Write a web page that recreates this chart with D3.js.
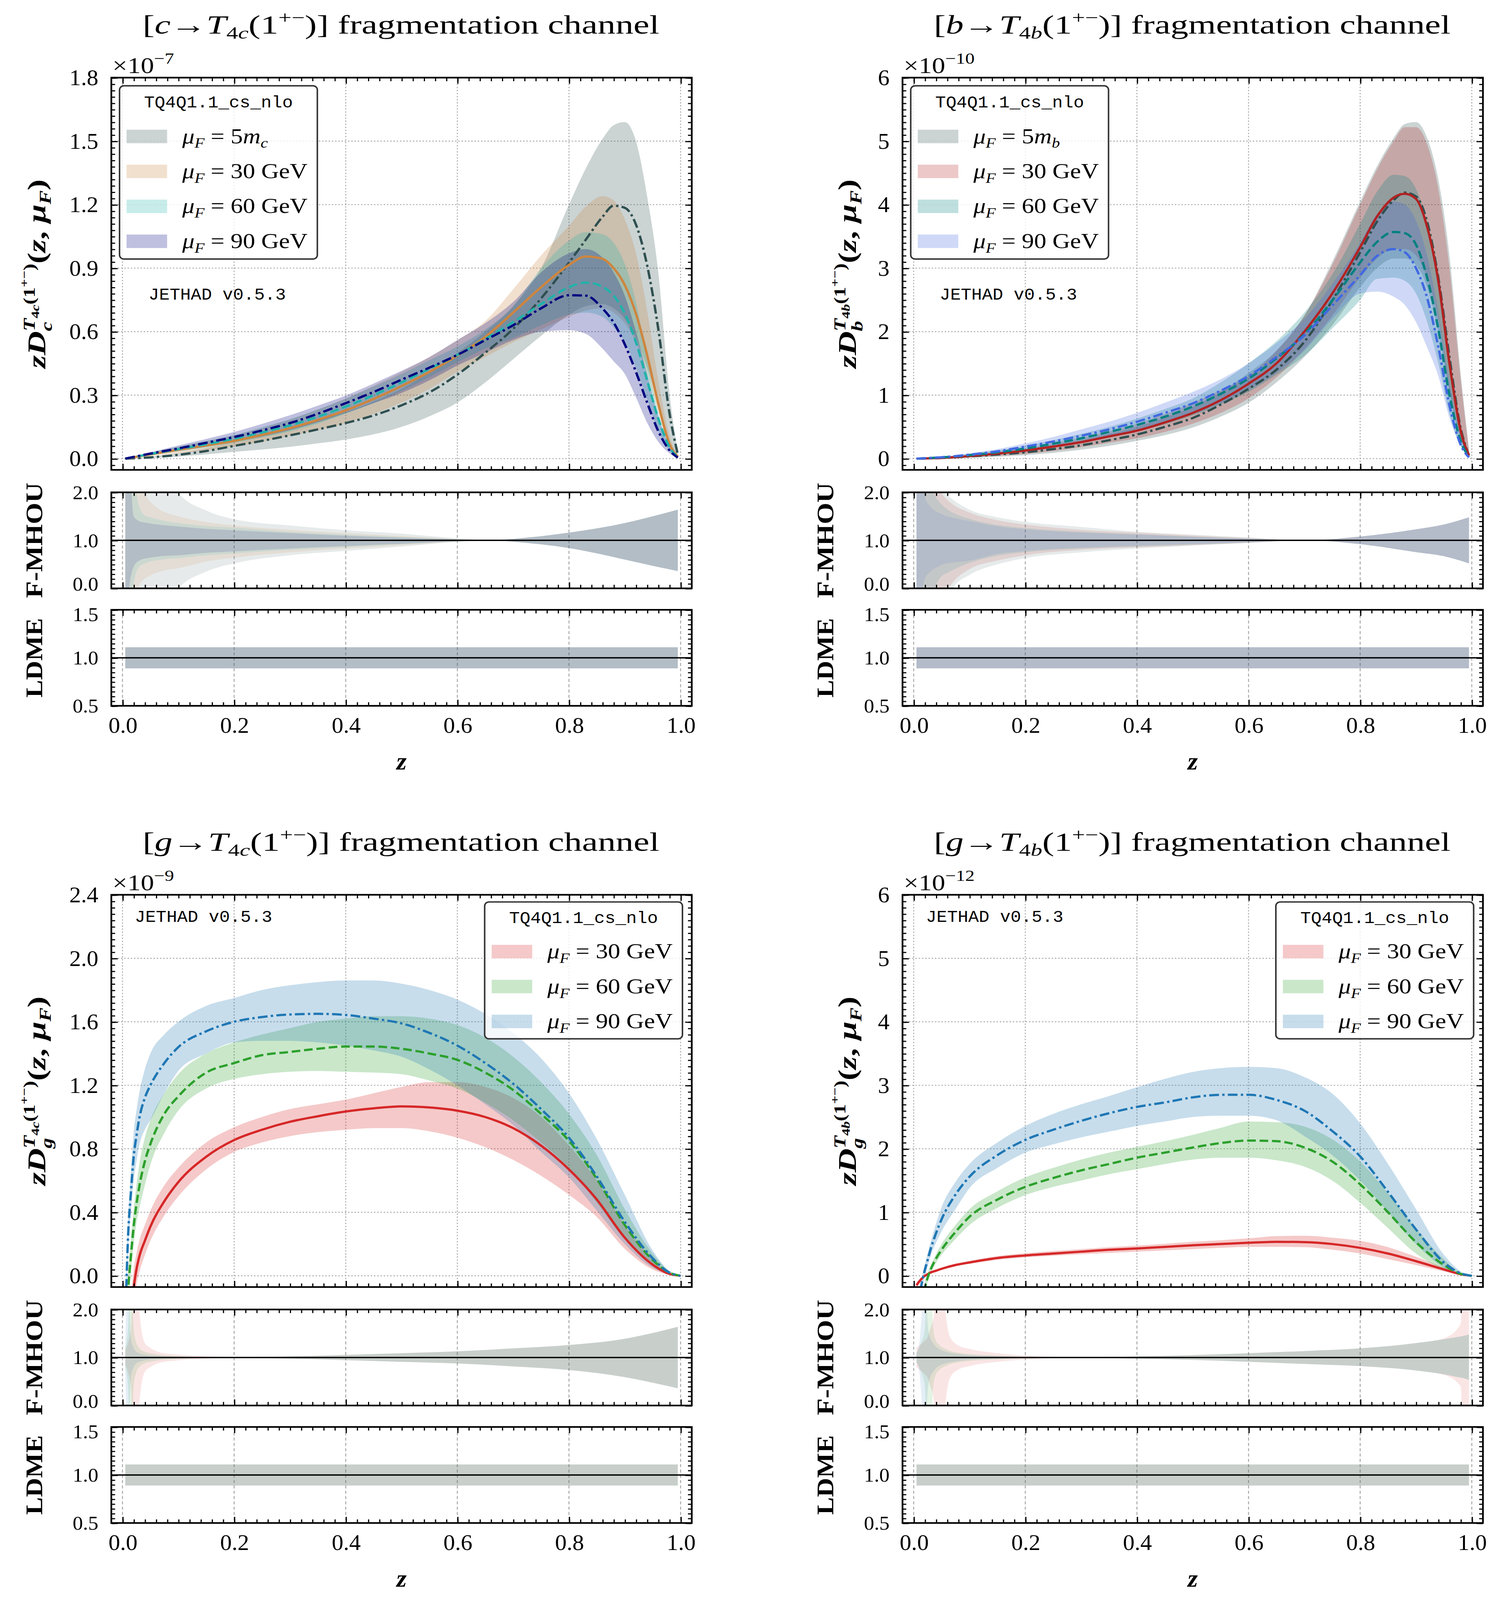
<!DOCTYPE html>
<html>
<head>
<meta charset="utf-8">
<script src="https://cdn.jsdelivr.net/npm/d3@7"></script>
<style>
  html, body { margin: 0; padding: 0; height: 100%; overflow: hidden; background: #fff; }
  svg { display: block; width: 100vw; height: 100vh; }
</style>
</head>
<body>
<svg id="fig" viewBox="0 0 1385 1566.4" preserveAspectRatio="none"></svg>
<script>
// ---- main-panel grids (z) ----
const zQ = [0.005, 0.05, 0.1, 0.15, 0.2, 0.25, 0.3, 0.35, 0.4, 0.45, 0.5, 0.55, 0.6, 0.65, 0.7, 0.75, 0.8, 0.83, 0.86, 0.88, 0.9, 0.92, 0.94, 0.96, 0.98, 0.995];
const zG = [0.005, 0.01, 0.015, 0.02, 0.025, 0.03, 0.04, 0.05, 0.075, 0.1, 0.15, 0.2, 0.25, 0.3, 0.35, 0.4, 0.45, 0.5, 0.55, 0.6, 0.65, 0.7, 0.75, 0.8, 0.85, 0.9, 0.95, 0.98, 1.0];

// ---- c -> T4c  (x 1e-7) ----
const c5Mid  = [0, 0.006, 0.018, 0.036, 0.06, 0.084, 0.11, 0.138, 0.168, 0.204, 0.252, 0.313, 0.397, 0.5, 0.613, 0.757, 0.926, 1.034, 1.142, 1.195, 1.185, 1.106, 0.914, 0.613, 0.216, 0.02];
const c5Lo   = [0, 0.003, 0.01, 0.02, 0.032, 0.043, 0.056, 0.072, 0.09, 0.115, 0.15, 0.2, 0.265, 0.36, 0.47, 0.58, 0.68, 0.72, 0.73, 0.71, 0.66, 0.57, 0.43, 0.26, 0.07, 0];
const c5Hi   = [0, 0.009, 0.027, 0.05, 0.08, 0.11, 0.145, 0.18, 0.22, 0.27, 0.33, 0.41, 0.5, 0.6, 0.72, 0.9, 1.2, 1.37, 1.51, 1.575, 1.59, 1.5, 1.24, 0.88, 0.31, 0.03];
const c30Mid = [0, 0.02, 0.042, 0.062, 0.084, 0.112, 0.144, 0.183, 0.228, 0.282, 0.343, 0.41, 0.487, 0.575, 0.69, 0.81, 0.915, 0.955, 0.944, 0.9, 0.82, 0.685, 0.49, 0.26, 0.07, 0.01];
const c30Lo  = [0, 0.012, 0.026, 0.04, 0.058, 0.08, 0.108, 0.135, 0.168, 0.212, 0.265, 0.33, 0.41, 0.48, 0.55, 0.61, 0.67, 0.7, 0.71, 0.69, 0.64, 0.55, 0.4, 0.22, 0.06, 0];
const c30Hi  = [0, 0.026, 0.055, 0.082, 0.11, 0.145, 0.185, 0.232, 0.285, 0.345, 0.41, 0.48, 0.56, 0.65, 0.8, 0.96, 1.1, 1.19, 1.24, 1.22, 1.13, 0.97, 0.7, 0.37, 0.11, 0.01];
const c60Mid = [0, 0.022, 0.045, 0.068, 0.094, 0.124, 0.157, 0.198, 0.246, 0.3, 0.36, 0.425, 0.49, 0.565, 0.645, 0.73, 0.81, 0.832, 0.812, 0.77, 0.685, 0.55, 0.37, 0.19, 0.055, 0.005];
const c60Lo  = [0, 0.016, 0.034, 0.052, 0.075, 0.1, 0.128, 0.165, 0.212, 0.262, 0.32, 0.385, 0.455, 0.52, 0.57, 0.63, 0.68, 0.69, 0.67, 0.62, 0.55, 0.43, 0.28, 0.13, 0.035, 0];
const c60Hi  = [0, 0.027, 0.056, 0.084, 0.112, 0.148, 0.186, 0.232, 0.283, 0.34, 0.4, 0.465, 0.53, 0.61, 0.72, 0.9, 1.03, 1.07, 1.06, 1.02, 0.92, 0.74, 0.47, 0.22, 0.06, 0.005];
const c90Mid = [0, 0.024, 0.048, 0.075, 0.102, 0.133, 0.168, 0.212, 0.262, 0.315, 0.373, 0.43, 0.49, 0.56, 0.63, 0.71, 0.772, 0.77, 0.71, 0.643, 0.54, 0.41, 0.265, 0.13, 0.04, 0.005];
const c90Lo  = [0, 0.017, 0.036, 0.056, 0.08, 0.105, 0.135, 0.172, 0.215, 0.262, 0.31, 0.37, 0.44, 0.5, 0.56, 0.6, 0.607, 0.59, 0.52, 0.46, 0.4, 0.29, 0.17, 0.08, 0.025, 0];
const c90Hi  = [0, 0.03, 0.062, 0.093, 0.126, 0.164, 0.205, 0.25, 0.298, 0.355, 0.415, 0.48, 0.56, 0.64, 0.74, 0.88, 0.97, 0.99, 0.95, 0.88, 0.77, 0.6, 0.4, 0.2, 0.06, 0.005];

// ---- b -> T4b  (x 1e-10) ----
const b5Mid  = [0, 0.01, 0.035, 0.065, 0.1, 0.15, 0.21, 0.29, 0.38, 0.5, 0.64, 0.85, 1.1, 1.4, 1.84, 2.49, 3.25, 3.73, 4.07, 4.19, 4.13, 3.73, 2.85, 1.6, 0.48, 0.05];
const b5Lo   = [0, 0.005, 0.015, 0.03, 0.055, 0.09, 0.14, 0.2, 0.28, 0.37, 0.49, 0.66, 0.88, 1.2, 1.6, 2.1, 2.7, 3.0, 3.15, 3.15, 3.05, 2.7, 2.0, 1.0, 0.3, 0.02];
const b5Hi   = [0, 0.015, 0.05, 0.095, 0.145, 0.215, 0.29, 0.39, 0.5, 0.65, 0.82, 1.05, 1.35, 1.7, 2.25, 3.1, 4.05, 4.6, 5.05, 5.27, 5.3, 5.05, 4.4, 3.2, 1.35, 0.15];
const b30Mid = [0, 0.012, 0.04, 0.08, 0.128, 0.19, 0.26, 0.35, 0.44, 0.57, 0.72, 0.92, 1.18, 1.5, 2.0, 2.6, 3.33, 3.81, 4.11, 4.17, 4.09, 3.65, 2.8, 1.5, 0.44, 0.05];
const b30Lo  = [0, 0.007, 0.022, 0.045, 0.075, 0.12, 0.18, 0.25, 0.32, 0.42, 0.55, 0.72, 0.95, 1.28, 1.72, 2.25, 2.85, 3.15, 3.3, 3.3, 3.2, 2.85, 2.2, 1.1, 0.33, 0.03];
const b30Hi  = [0, 0.017, 0.058, 0.11, 0.16, 0.24, 0.33, 0.43, 0.55, 0.7, 0.88, 1.08, 1.3, 1.7, 2.25, 3.05, 4.0, 4.55, 5.0, 5.22, 5.22, 4.95, 4.25, 3.0, 1.25, 0.12];
const b60Mid = [0, 0.02, 0.055, 0.1, 0.16, 0.235, 0.32, 0.42, 0.53, 0.66, 0.82, 1.02, 1.26, 1.58, 1.96, 2.49, 3.09, 3.41, 3.57, 3.55, 3.37, 2.85, 2.04, 1.0, 0.28, 0.03];
const b60Lo  = [0, 0.013, 0.037, 0.07, 0.12, 0.18, 0.25, 0.33, 0.43, 0.54, 0.68, 0.85, 1.05, 1.32, 1.62, 2.05, 2.5, 2.83, 2.85, 2.8, 2.6, 2.15, 1.5, 0.7, 0.2, 0.02];
const b60Hi  = [0, 0.027, 0.075, 0.13, 0.2, 0.29, 0.39, 0.5, 0.63, 0.78, 0.95, 1.2, 1.5, 1.85, 2.3, 2.9, 3.7, 4.2, 4.47, 4.45, 4.25, 3.7, 2.8, 1.5, 0.45, 0.04];
const b90Mid = [0, 0.022, 0.062, 0.115, 0.19, 0.27, 0.36, 0.46, 0.58, 0.72, 0.87, 1.07, 1.3, 1.6, 1.94, 2.41, 2.89, 3.19, 3.3, 3.25, 3.0, 2.53, 1.76, 0.84, 0.22, 0.02];
const b90Lo  = [0, 0.016, 0.045, 0.085, 0.14, 0.2, 0.28, 0.36, 0.45, 0.56, 0.7, 0.87, 1.08, 1.35, 1.7, 2.2, 2.6, 2.63, 2.55, 2.42, 2.15, 1.75, 1.3, 0.64, 0.2, 0.01];
const b90Hi  = [0, 0.03, 0.085, 0.15, 0.24, 0.34, 0.46, 0.58, 0.72, 0.88, 1.05, 1.25, 1.5, 1.82, 2.2, 2.75, 3.4, 3.85, 4.05, 4.0, 3.75, 3.2, 2.3, 1.2, 0.35, 0.03];

// ---- g -> T4c  (x 1e-9) ----
const gc30Mid = [-1.0, -0.6, -0.3, -0.08, 0.04, 0.12, 0.22, 0.31, 0.47, 0.59, 0.75, 0.855, 0.92, 0.97, 1.005, 1.035, 1.055, 1.067, 1.06, 1.04, 1.0, 0.93, 0.82, 0.67, 0.48, 0.24, 0.07, 0.012, 0];
const gc30Lo  = [-1.2, -0.8, -0.45, -0.2, -0.06, 0.02, 0.13, 0.22, 0.38, 0.5, 0.67, 0.78, 0.84, 0.88, 0.905, 0.92, 0.93, 0.93, 0.91, 0.87, 0.81, 0.73, 0.63, 0.51, 0.37, 0.17, 0.04, 0.006, 0];
const gc30Hi  = [-0.8, -0.4, -0.15, 0.04, 0.14, 0.22, 0.32, 0.41, 0.57, 0.68, 0.84, 0.935, 1.0, 1.05, 1.08, 1.11, 1.15, 1.19, 1.22, 1.22, 1.19, 1.12, 1.0, 0.82, 0.6, 0.32, 0.1, 0.02, 0];
const gc60Mid = [-0.5, -0.1, 0.12, 0.31, 0.45, 0.56, 0.72, 0.83, 1.02, 1.13, 1.28, 1.34, 1.39, 1.41, 1.43, 1.444, 1.444, 1.43, 1.4, 1.36, 1.28, 1.17, 1.02, 0.85, 0.61, 0.32, 0.1, 0.02, 0];
const gc60Lo  = [-0.6, -0.2, 0.02, 0.2, 0.33, 0.42, 0.57, 0.7, 0.9, 1.04, 1.18, 1.24, 1.27, 1.285, 1.29, 1.285, 1.28, 1.27, 1.23, 1.18, 1.09, 0.98, 0.84, 0.68, 0.46, 0.23, 0.07, 0.015, 0];
const gc60Hi  = [-0.4, 0.0, 0.22, 0.42, 0.57, 0.7, 0.87, 0.98, 1.15, 1.27, 1.4, 1.47, 1.52, 1.56, 1.6, 1.62, 1.635, 1.635, 1.62, 1.58, 1.5, 1.38, 1.22, 1.02, 0.76, 0.42, 0.14, 0.03, 0];
const gc90Mid = [-0.3, 0.25, 0.52, 0.75, 0.88, 0.99, 1.12, 1.2, 1.34, 1.44, 1.54, 1.6, 1.63, 1.646, 1.65, 1.643, 1.62, 1.59, 1.53, 1.45, 1.34, 1.21, 1.05, 0.87, 0.625, 0.34, 0.11, 0.02, 0];
const gc90Lo  = [-0.4, 0.15, 0.4, 0.6, 0.72, 0.82, 0.92, 0.98, 1.15, 1.29, 1.4, 1.47, 1.48, 1.48, 1.47, 1.45, 1.42, 1.38, 1.3, 1.2, 1.08, 0.95, 0.78, 0.62, 0.41, 0.2, 0.05, 0.01, 0];
const gc90Hi  = [-0.2, 0.35, 0.65, 0.9, 1.04, 1.15, 1.3, 1.4, 1.52, 1.6, 1.7, 1.75, 1.8, 1.83, 1.85, 1.86, 1.86, 1.84, 1.8, 1.74, 1.65, 1.53, 1.37, 1.15, 0.86, 0.51, 0.16, 0.03, 0];

// ---- g -> T4b  (x 1e-12) ----
const gb30Mid = [-0.15, -0.09, -0.04, 0.0, 0.025, 0.05, 0.08, 0.11, 0.17, 0.21, 0.28, 0.32, 0.35, 0.38, 0.41, 0.43, 0.455, 0.48, 0.5, 0.52, 0.535, 0.53, 0.5, 0.44, 0.35, 0.23, 0.1, 0.025, 0];
const gb30Lo  = [-0.2, -0.12, -0.06, -0.01, 0.015, 0.04, 0.065, 0.095, 0.15, 0.19, 0.25, 0.29, 0.315, 0.34, 0.36, 0.38, 0.4, 0.42, 0.44, 0.455, 0.455, 0.45, 0.41, 0.35, 0.26, 0.17, 0.07, 0.015, 0];
const gb30Hi  = [-0.1, -0.06, -0.02, 0.01, 0.035, 0.06, 0.095, 0.125, 0.19, 0.235, 0.31, 0.355, 0.39, 0.42, 0.45, 0.475, 0.505, 0.535, 0.56, 0.59, 0.625, 0.63, 0.6, 0.55, 0.45, 0.3, 0.13, 0.035, 0];
const gb60Mid = [-0.8, -0.6, -0.4, -0.2, -0.03, 0.09, 0.27, 0.41, 0.69, 0.93, 1.2, 1.4, 1.54, 1.66, 1.76, 1.86, 1.94, 2.02, 2.09, 2.13, 2.12, 2.02, 1.8, 1.44, 1.0, 0.53, 0.17, 0.03, 0];
const gb60Lo  = [-0.9, -0.7, -0.5, -0.3, -0.1, 0.03, 0.2, 0.33, 0.58, 0.8, 1.07, 1.27, 1.4, 1.5, 1.6, 1.68, 1.76, 1.83, 1.86, 1.86, 1.82, 1.72, 1.5, 1.15, 0.75, 0.35, 0.1, 0.015, 0];
const gb60Hi  = [-0.7, -0.5, -0.3, -0.1, 0.04, 0.15, 0.34, 0.5, 0.8, 1.05, 1.33, 1.55, 1.7, 1.83, 1.94, 2.03, 2.12, 2.22, 2.33, 2.43, 2.42, 2.35, 2.15, 1.8, 1.3, 0.75, 0.26, 0.05, 0];
const gb90Mid = [-0.5, -0.3, -0.1, 0.09, 0.25, 0.41, 0.67, 0.89, 1.28, 1.56, 1.9, 2.14, 2.3, 2.44, 2.56, 2.66, 2.73, 2.81, 2.85, 2.85, 2.77, 2.6, 2.28, 1.88, 1.32, 0.73, 0.21, 0.04, 0];
const gb90Lo  = [-0.6, -0.4, -0.2, 0.0, 0.15, 0.3, 0.52, 0.7, 1.05, 1.38, 1.7, 1.94, 2.07, 2.18, 2.27, 2.36, 2.43, 2.5, 2.52, 2.52, 2.45, 2.2, 1.9, 1.5, 1.0, 0.5, 0.13, 0.02, 0];
const gb90Hi  = [-0.4, -0.2, 0.0, 0.18, 0.35, 0.52, 0.82, 1.08, 1.48, 1.76, 2.1, 2.36, 2.55, 2.7, 2.83, 2.97, 3.1, 3.21, 3.27, 3.29, 3.27, 3.13, 2.87, 2.4, 1.76, 1.05, 0.33, 0.07, 0];

// ---- F-MHOU ratio bands ----
const zRc = [0.005, 0.01, 0.02, 0.03, 0.04, 0.05, 0.07, 0.1, 0.15, 0.2, 0.3, 0.4, 0.5, 0.6, 0.66, 0.7, 0.8, 0.9, 0.95, 0.995];
const rc5Hi  = [3, 3, 3, 3, 3, 3, 2.6, 2.0, 1.62, 1.44, 1.31, 1.21, 1.14, 1.04, 1.0, 1.03, 1.16, 1.36, 1.5, 1.64];
const rc5Lo  = [-1, -1, -1, -1, -1, -1, -0.5, 0.0, 0.35, 0.52, 0.69, 0.78, 0.87, 0.97, 1.0, 0.97, 0.84, 0.6, 0.47, 0.36];
const rc30Hi = [3, 3, 3, 2.2, 1.95, 1.8, 1.62, 1.5, 1.38, 1.31, 1.22, 1.15, 1.09, 1.03, 1.0, 1.03, 1.16, 1.36, 1.5, 1.64];
const rc30Lo = [-1, -1, -1, 0.05, 0.2, 0.27, 0.36, 0.42, 0.56, 0.64, 0.75, 0.83, 0.9, 0.97, 1.0, 0.97, 0.84, 0.6, 0.47, 0.36];
const rc60Hi = [3, 3, 2.3, 1.7, 1.52, 1.48, 1.42, 1.36, 1.3, 1.265, 1.18, 1.12, 1.07, 1.025, 1.0, 1.03, 1.16, 1.36, 1.5, 1.64];
const rc60Lo = [-1, -1, 0.1, 0.45, 0.52, 0.56, 0.6, 0.63, 0.69, 0.73, 0.8, 0.86, 0.92, 0.975, 1.0, 0.97, 0.84, 0.6, 0.47, 0.36];
const rc90Hi = [3, 3, 1.5, 1.4, 1.37, 1.35, 1.32, 1.29, 1.24, 1.21, 1.15, 1.095, 1.055, 1.02, 1.0, 1.03, 1.16, 1.36, 1.5, 1.64];
const rc90Lo = [-1, -0.2, 0.45, 0.58, 0.62, 0.64, 0.67, 0.69, 0.74, 0.77, 0.83, 0.88, 0.93, 0.98, 1.0, 0.97, 0.84, 0.6, 0.47, 0.36];

const zRb = [0.005, 0.01, 0.02, 0.03, 0.04, 0.05, 0.06, 0.07, 0.1, 0.15, 0.2, 0.3, 0.4, 0.5, 0.6, 0.7, 0.8, 0.9, 0.95, 0.995];
const rb5Hi  = [3, 3, 3, 3, 3, 2.1, 1.95, 1.85, 1.64, 1.48, 1.385, 1.28, 1.18, 1.12, 1.06, 1.0, 1.08, 1.23, 1.33, 1.48];
const rb5Lo  = [-1, -1, -1, -1, -1, -1, -0.3, 0.0, 0.28, 0.5, 0.63, 0.75, 0.83, 0.89, 0.945, 1.0, 0.92, 0.755, 0.67, 0.52];
const rb30Hi = [3, 3, 3, 3, 2.4, 2.0, 1.85, 1.75, 1.58, 1.42, 1.33, 1.22, 1.16, 1.1, 1.05, 1.0, 1.08, 1.23, 1.33, 1.48];
const rb30Lo = [-1, -1, -1, -1, -1, -0.3, -0.05, 0.12, 0.4, 0.58, 0.69, 0.8, 0.855, 0.9, 0.95, 1.0, 0.92, 0.755, 0.67, 0.52];
const rb60Hi = [3, 3, 3, 2.2, 1.9, 1.75, 1.65, 1.58, 1.45, 1.32, 1.255, 1.18, 1.13, 1.08, 1.04, 1.0, 1.08, 1.23, 1.33, 1.48];
const rb60Lo = [-1, -1, -1, -0.5, 0.05, 0.25, 0.32, 0.38, 0.53, 0.68, 0.755, 0.83, 0.87, 0.91, 0.955, 1.0, 0.92, 0.755, 0.67, 0.52];
const rb90Hi = [3, 3, 1.9, 1.7, 1.6, 1.55, 1.5, 1.47, 1.4, 1.29, 1.23, 1.16, 1.12, 1.07, 1.035, 1.0, 1.08, 1.23, 1.33, 1.48];
const rb90Lo = [-1, -0.5, 0.2, 0.35, 0.43, 0.49, 0.52, 0.54, 0.58, 0.72, 0.78, 0.845, 0.89, 0.925, 0.96, 1.0, 0.92, 0.755, 0.67, 0.52];

const zRgc = [0.005, 0.01, 0.015, 0.02, 0.025, 0.03, 0.04, 0.05, 0.07, 0.1, 0.15, 0.2, 0.3, 0.4, 0.5, 0.6, 0.7, 0.8, 0.9, 0.95, 0.995];
const rgc30Hi = [1.15, 1.3, 1.6, 3, 3, 2.0, 1.3, 1.2, 1.1, 1.06, 1.025, 1.005, 1.025, 1.055, 1.09, 1.13, 1.19, 1.26, 1.39, 1.51, 1.64];
const rgc30Lo = [0.85, 0.7, 0.4, -1, -1, 0.0, 0.7, 0.8, 0.9, 0.94, 0.975, 0.995, 0.975, 0.945, 0.91, 0.875, 0.815, 0.74, 0.59, 0.475, 0.36];
const rgc60Hi = [1.2, 1.6, 3, 1.6, 1.3, 1.2, 1.12, 1.09, 1.05, 1.03, 1.01, 1.0, 1.025, 1.055, 1.09, 1.13, 1.19, 1.26, 1.39, 1.51, 1.64];
const rgc60Lo = [0.8, 0.4, -1, 0.4, 0.7, 0.8, 0.88, 0.91, 0.95, 0.97, 0.99, 1.0, 0.975, 0.945, 0.91, 0.875, 0.815, 0.74, 0.59, 0.475, 0.36];
const rgc90Hi = [1.3, 3, 1.4, 1.2, 1.12, 1.09, 1.06, 1.04, 1.03, 1.02, 1.01, 1.0, 1.025, 1.055, 1.09, 1.13, 1.19, 1.26, 1.39, 1.51, 1.64];
const rgc90Lo = [0.7, -1, 0.6, 0.8, 0.88, 0.91, 0.94, 0.96, 0.97, 0.98, 0.99, 1.0, 0.975, 0.945, 0.91, 0.875, 0.815, 0.74, 0.59, 0.475, 0.36];

const zRgb = [0.005, 0.01, 0.015, 0.02, 0.025, 0.03, 0.035, 0.04, 0.045, 0.05, 0.055, 0.065, 0.08, 0.1, 0.15, 0.2, 0.25, 0.3, 0.4, 0.5, 0.6, 0.7, 0.8, 0.9, 0.95, 0.98, 0.985, 0.995];
const rgb30Hi = [1.2, 1.25, 1.3, 1.35, 1.42, 1.6, 1.8, 2.3, 3, 3, 2.2, 1.43, 1.25, 1.18, 1.09, 1.04, 1.01, 1.0, 1.025, 1.05, 1.09, 1.135, 1.19, 1.3, 1.4, 1.7, 3, 3];
const rgb30Lo = [0.8, 0.75, 0.7, 0.65, 0.58, 0.4, 0.2, -0.3, -1, -1, -0.2, 0.57, 0.75, 0.82, 0.91, 0.96, 0.99, 1.0, 0.975, 0.95, 0.91, 0.865, 0.82, 0.73, 0.64, 0.4, -1, -1];
const rgb60Hi = [1.1, 1.2, 1.35, 1.6, 3, 3, 1.6, 1.35, 1.27, 1.22, 1.19, 1.14, 1.1, 1.07, 1.04, 1.02, 1.01, 1.0, 1.025, 1.05, 1.09, 1.135, 1.19, 1.3, 1.38, 1.44, 1.45, 1.48];
const rgb60Lo = [0.9, 0.8, 0.65, 0.4, -1, -1, 0.4, 0.65, 0.73, 0.78, 0.81, 0.86, 0.9, 0.93, 0.96, 0.98, 0.99, 1.0, 0.975, 0.95, 0.91, 0.865, 0.82, 0.73, 0.65, 0.58, 0.57, 0.53];
const rgb90Hi = [1.1, 1.3, 2.0, 3, 1.7, 1.4, 1.3, 1.22, 1.18, 1.15, 1.13, 1.1, 1.07, 1.05, 1.03, 1.015, 1.005, 1.0, 1.025, 1.05, 1.09, 1.135, 1.19, 1.3, 1.38, 1.44, 1.45, 1.48];
const rgb90Lo = [0.9, 0.7, 0.0, -1, 0.3, 0.6, 0.7, 0.78, 0.82, 0.85, 0.87, 0.9, 0.93, 0.95, 0.97, 0.985, 0.995, 1.0, 0.975, 0.95, 0.91, 0.865, 0.82, 0.73, 0.65, 0.58, 0.57, 0.53];

// ---- LDME band (same for every series) ----
const ldmeZ  = [0.005, 0.995];
const ldmeLo = [0.89, 0.89];
const ldmeHi = [1.11, 1.11];

const xTicks = [0, 0.2, 0.4, 0.6, 0.8, 1.0];

// ------------------------------------------------------------------
const SERIF = '"Liberation Serif", "DejaVu Serif", serif';
const MONO = '"Liberation Mono", "DejaVu Sans Mono", monospace';
const DASH = { solid: null, dashed: '8,3.5', dashdot: '9,3,2.2,3' };
const TICK_FS = 21.5;
const RATIO_TICK_FS = 19;

const svg = d3.select('#fig');
svg.append('rect').attr('width', 1385).attr('height', 1566.4).attr('fill', '#fff');
const defs = svg.append('defs');
let clipId = 0;

// lays out a run of text pieces (math-ish) and positions the whole group
function rich(parent, pieces, opt) {
  const outer = parent.append('g');
  const inner = outer.append('g');
  const base = opt.fs || 18;
  function lay(list, x0) {
    let cx = x0;
    list.forEach(p => {
      if (p.stack) {
        let w = 0;
        p.stack.forEach(s => { w = Math.max(w, lay(s, cx) - cx); });
        cx += w;
        return;
      }
      const t = inner.append('text')
        .attr('x', cx).attr('y', -(p.up || 0))
        .attr('xml:space', 'preserve')
        .attr('font-family', p.fam || opt.fam || SERIF)
        .attr('font-size', p.fs || base)
        .attr('font-style', p.it ? 'italic' : null)
        .attr('font-weight', (p.b || opt.b) ? 'bold' : null)
        .attr('fill', '#000')
        .style('white-space', 'pre')
        .text(p.t);
      cx += t.node().getComputedTextLength();
    });
    return cx;
  }
  const w = lay(pieces, 0);
  const sx = opt.width ? opt.width / w : (opt.sx || 1);
  const shift = opt.anchor === 'middle' ? -w / 2 : opt.anchor === 'end' ? -w : 0;
  inner.attr('transform', `scale(${sx},1) translate(${shift},0)`);
  outer.attr('transform', `translate(${opt.x},${opt.y})` + (opt.rot ? ` rotate(${opt.rot})` : ''));
  return outer;
}

function titlePieces(q, h) {
  return [{ t: '[' }, { t: q, it: true }, { t: '→' }, { t: 'T', it: true },
    { t: '4', fs: 17, up: -5 }, { t: h, it: true, fs: 17, up: -5 },
    { t: '(1' }, { t: '+−', fs: 17, up: 10 }, { t: ')] fragmentation channel' }];
}
function ylabPieces(q, h) {
  return [{ t: 'z', it: true }, { t: 'D', it: true },
    { stack: [
      [{ t: q, it: true, fs: 15, up: -6 }],
      [{ t: 'T', it: true, fs: 15, up: 10 }, { t: '4', fs: 10.5, up: 6 }, { t: h, it: true, fs: 10.5, up: 6 },
       { t: '(1', fs: 15, up: 10 }, { t: '+−', fs: 10.5, up: 16 }, { t: ')', fs: 15, up: 10 }]
    ] },
    { t: '(' }, { t: 'z', it: true }, { t: ', ' }, { t: 'μ', it: true }, { t: 'F', it: true, fs: 15, up: -5 }, { t: ')' }];
}
function muLabel(rest, mass) {
  const p = [{ t: 'μ', it: true }, { t: 'F', it: true, fs: 14, up: -4.5 }];
  if (mass) return p.concat([{ t: ' = 5' }, { t: 'm', it: true }, { t: mass, it: true, fs: 14, up: -4.5 }]);
  return p.concat([{ t: ' = ' + rest }]);
}

function axisSide(g, orient, pos, scale, major, minor, fmt, pad, fs) {
  const mk = { left: d3.axisLeft, right: d3.axisRight, top: d3.axisTop, bottom: d3.axisBottom }[orient];
  const tr = (orient === 'left' || orient === 'right') ? `translate(${pos},0)` : `translate(0,${pos})`;
  const a1 = g.append('g').attr('transform', tr)
    .call(mk(scale).tickValues(major).tickSize(-6).tickPadding(pad || 12).tickFormat(fmt || (() => '')));
  const a2 = g.append('g').attr('transform', tr)
    .call(mk(scale).tickValues(minor).tickSize(-3.5).tickFormat(() => ''));
  [a1, a2].forEach(a => {
    a.select('.domain').remove();
    a.selectAll('line').attr('stroke', '#000').attr('stroke-width', 1.1);
    a.selectAll('text').attr('font-family', SERIF).attr('font-size', fs || TICK_FS).attr('fill', '#000');
  });
  return a1;
}

function frame(g, x, y, L, R, T, B, majY, minY, fmtY, showX, yfs) {
  const xMaj = xTicks, xMin = d3.range(0, 51).map(i => i * 0.02);
  const left = axisSide(g, 'left', L, y, majY, minY, fmtY, 12, yfs);
  axisSide(g, 'right', R, y, majY, minY, null);
  axisSide(g, 'top', T, x, xMaj, xMin, null);
  axisSide(g, 'bottom', B, x, xMaj, xMin, showX ? d3.format('.1f') : null, 11);
  g.append('rect').attr('x', L).attr('y', T).attr('width', R - L).attr('height', B - T)
    .attr('fill', 'none').attr('stroke', '#000').attr('stroke-width', 1.6);
  return left;
}

function clipRect(L, T, R, B) {
  const id = 'clip' + (clipId++);
  defs.append('clipPath').attr('id', id).append('rect')
    .attr('x', L).attr('y', T).attr('width', R - L).attr('height', B - T);
  return `url(#${id})`;
}

function band(g, z, lo, hi, x, y, color, op) {
  const a = d3.area().x(i => x(z[i])).y0(i => y(lo[i])).y1(i => y(hi[i])).curve(d3.curveMonotoneX);
  g.append('path').attr('d', a(d3.range(z.length))).attr('fill', color).attr('fill-opacity', op);
}

function drawPanel(P) {
  const L = P.ox + 103, R = P.ox + 640, T = P.oy + 76, B = P.oy + 460;
  const rT = P.oy + 482, rB = P.oy + 576, lT = P.oy + 597, lB = P.oy + 691;
  const x = d3.scaleLinear().domain([-0.02, 1.02]).range([L, R]);
  const yMin = -0.0295 * P.yMax;
  const y = d3.scaleLinear().domain([yMin, P.yMax]).range([B, T]);
  const yR = d3.scaleLinear().domain([0, 2]).range([rB, rT]);
  const yL = d3.scaleLinear().domain([0.5, 1.5]).range([lB, lT]);
  const g = svg.append('g');

  // ---- main panel ----
  const yMaj = d3.range(0, Math.round(P.yMax / P.yStep) + 1).map(k => +(k * P.yStep).toFixed(6));
  const yMin2 = d3.range(Math.ceil(yMin / P.yMinor), Math.floor(P.yMax / P.yMinor + 1e-6) + 1).map(k => k * P.yMinor);
  const grid = g.append('g').attr('stroke', '#aaaaaa').attr('stroke-width', 0.9).attr('stroke-dasharray', '1.3,1.7');
  xTicks.forEach(v => grid.append('line').attr('x1', x(v)).attr('x2', x(v)).attr('y1', T).attr('y2', B));
  yMaj.forEach(v => grid.append('line').attr('x1', L).attr('x2', R).attr('y1', y(v)).attr('y2', y(v)));

  const mg = g.append('g').attr('clip-path', clipRect(L, T, R, B));
  P.series.forEach(s => band(mg, P.z, s.lo, s.hi, x, y, s.color, 0.25));
  P.series.forEach(s => {
    const ln = d3.line().x(i => x(P.z[i])).y(i => y(s.mid[i])).curve(d3.curveMonotoneX);
    mg.append('path').attr('d', ln(d3.range(P.z.length))).attr('fill', 'none')
      .attr('stroke', s.color).attr('stroke-width', 2.2).attr('stroke-dasharray', DASH[s.dash]);
  });
  frame(g, x, y, L, R, T, B, yMaj, yMin2, P.yFmt, false);

  // exponent
  rich(g, [{ t: '×10' }, { t: P.exp, fs: 15.5, up: 9 }], { x: L + 1, y: T - 4.5, fs: 22, sx: 1.12 });

  // legend
  const lg = g.append('g');
  const lw = 183;
  const box = P.legendLeft
    ? { x: L + 7.6, y: T + 8, h: 169.6, tOff: 21, rOff: 56.2 }
    : { x: R - 191.6, y: T + 7, h: 134, tOff: 20.6, rOff: 55.2 };
  lg.append('rect').attr('x', box.x).attr('y', box.y).attr('width', lw).attr('height', box.h)
    .attr('rx', 4).attr('fill', '#fff').attr('fill-opacity', 0.8).attr('stroke', '#333').attr('stroke-width', 1.4);
  lg.append('text').attr('x', box.x + lw / 2).attr('y', box.y + box.tOff).attr('text-anchor', 'middle')
    .attr('font-family', MONO).attr('font-size', 16.4).text('TQ4Q1.1_cs_nlo');
  P.series.forEach((s, i) => {
    const by = box.y + box.rOff + i * 34.2;
    lg.append('rect').attr('x', box.x + 6.5).attr('y', by - 13.2).attr('width', 37.5).attr('height', 13.2)
      .attr('fill', s.color).attr('fill-opacity', 0.25);
    rich(lg, s.label, { x: box.x + 58, y: by, fs: 21, sx: 1.08 });
  });
  const jx = P.legendLeft ? L + 34.4 : L + 21.7, jy = P.legendLeft ? T + 217.5 : T + 26.6;
  g.append('text').attr('x', jx).attr('y', jy).attr('font-family', MONO).attr('font-size', 16.3).text('JETHAD v0.5.3');

  // ---- F-MHOU panel ----
  const rg = g.append('g');
  const rgrid = rg.append('g').attr('stroke', '#aaa').attr('stroke-width', 0.9).attr('stroke-dasharray', '3,2.2');
  xTicks.forEach(v => rgrid.append('line').attr('x1', x(v)).attr('x2', x(v)).attr('y1', rT).attr('y2', rB));
  const rc = rg.append('g').attr('clip-path', clipRect(L, rT, R, rB));
  P.series.forEach(s => band(rc, P.rz, s.rLo, s.rHi, x, yR, s.color, 0.12));
  rg.append('line').attr('x1', L).attr('x2', R).attr('y1', yR(1)).attr('y2', yR(1)).attr('stroke', '#000').attr('stroke-width', 1.3);
  const rLeft = frame(rg, x, yR, L, R, rT, rB, [0, 1, 2], d3.range(0, 21).map(k => k * 0.1), d3.format('.1f'), false, RATIO_TICK_FS);
  // keep the bottom label of this panel clear of the top label of the LDME panel
  rLeft.selectAll('.tick').filter(d => d === 0).select('text').attr('dy', '0.1em');

  // ---- LDME panel ----
  const dg = g.append('g');
  const dgrid = dg.append('g').attr('stroke', '#aaa').attr('stroke-width', 0.9).attr('stroke-dasharray', '3,2.2');
  xTicks.forEach(v => dgrid.append('line').attr('x1', x(v)).attr('x2', x(v)).attr('y1', lT).attr('y2', lB));
  P.series.forEach(s => band(dg, ldmeZ, ldmeLo, ldmeHi, x, yL, s.color, 0.12));
  dg.append('line').attr('x1', L).attr('x2', R).attr('y1', yL(1)).attr('y2', yL(1)).attr('stroke', '#000').attr('stroke-width', 1.3);
  const dLeft = frame(dg, x, yL, L, R, lT, lB, [0.5, 1.0, 1.5], d3.range(10, 31).map(k => k * 0.05), d3.format('.1f'), true, RATIO_TICK_FS);
  dLeft.selectAll('.tick').filter(d => d === 1.5).select('text').attr('dy', '0.55em');

  // ---- labels ----
  rich(g, P.title, { x: P.ox + 371, y: P.oy + 33, fs: 26, anchor: 'middle', width: 478 });
  rich(g, P.ylab, { x: L - (P.narrow ? 43 : 61), y: (T + B) / 2, rot: -90, fs: 24, b: true, anchor: 'middle', width: 185 });
  rich(g, [{ t: 'F-MHOU' }], { x: L - 64, y: (rT + rB) / 2, rot: -90, fs: 22, b: true, anchor: 'middle', width: 113 });
  rich(g, [{ t: 'LDME' }], { x: L - 64, y: (lT + lB) / 2, rot: -90, fs: 22, b: true, anchor: 'middle', width: 78 });
  rich(g, [{ t: 'z', it: true, b: true }], { x: (x(0) + x(1)) / 2, y: P.oy + 753.5, fs: 24, anchor: 'middle' });
}

const panels = [
  {
    ox: 0, oy: 0, yMax: 1.8, yStep: 0.3, yMinor: 0.03, yFmt: d3.format('.1f'), exp: '−7',
    title: titlePieces('c', 'c'), ylab: ylabPieces('c', 'c'), legendLeft: true, narrow: false,
    z: zQ, rz: zRc,
    series: [
      { label: muLabel(null, 'c'), color: '#2f4f4f', dash: 'dashdot', mid: c5Mid, lo: c5Lo, hi: c5Hi, rLo: rc5Lo, rHi: rc5Hi },
      { label: muLabel('30 GeV'), color: '#cd853f', dash: 'solid', mid: c30Mid, lo: c30Lo, hi: c30Hi, rLo: rc30Lo, rHi: rc30Hi },
      { label: muLabel('60 GeV'), color: '#20b2aa', dash: 'dashed', mid: c60Mid, lo: c60Lo, hi: c60Hi, rLo: rc60Lo, rHi: rc60Hi },
      { label: muLabel('90 GeV'), color: '#000080', dash: 'dashdot', mid: c90Mid, lo: c90Lo, hi: c90Hi, rLo: rc90Lo, rHi: rc90Hi }
    ]
  },
  {
    ox: 732, oy: 0, yMax: 6, yStep: 1, yMinor: 0.1, yFmt: d3.format('d'), exp: '−10',
    title: titlePieces('b', 'b'), ylab: ylabPieces('b', 'b'), legendLeft: true, narrow: true,
    z: zQ, rz: zRb,
    series: [
      { label: muLabel(null, 'b'), color: '#2f4f4f', dash: 'dashdot', mid: b5Mid, lo: b5Lo, hi: b5Hi, rLo: rb5Lo, rHi: rb5Hi },
      { label: muLabel('30 GeV'), color: '#b22222', dash: 'solid', mid: b30Mid, lo: b30Lo, hi: b30Hi, rLo: rb30Lo, rHi: rb30Hi },
      { label: muLabel('60 GeV'), color: '#008080', dash: 'dashed', mid: b60Mid, lo: b60Lo, hi: b60Hi, rLo: rb60Lo, rHi: rb60Hi },
      { label: muLabel('90 GeV'), color: '#4169e1', dash: 'dashdot', mid: b90Mid, lo: b90Lo, hi: b90Hi, rLo: rb90Lo, rHi: rb90Hi }
    ]
  },
  {
    ox: 0, oy: 800, yMax: 2.4, yStep: 0.4, yMinor: 0.04, yFmt: d3.format('.1f'), exp: '−9',
    title: titlePieces('g', 'c'), ylab: ylabPieces('g', 'c'), legendLeft: false, narrow: false,
    z: zG, rz: zRgc,
    series: [
      { label: muLabel('30 GeV'), color: '#d62728', dash: 'solid', mid: gc30Mid, lo: gc30Lo, hi: gc30Hi, rLo: rgc30Lo, rHi: rgc30Hi },
      { label: muLabel('60 GeV'), color: '#2ca02c', dash: 'dashed', mid: gc60Mid, lo: gc60Lo, hi: gc60Hi, rLo: rgc60Lo, rHi: rgc60Hi },
      { label: muLabel('90 GeV'), color: '#1f77b4', dash: 'dashdot', mid: gc90Mid, lo: gc90Lo, hi: gc90Hi, rLo: rgc90Lo, rHi: rgc90Hi }
    ]
  },
  {
    ox: 732, oy: 800, yMax: 6, yStep: 1, yMinor: 0.1, yFmt: d3.format('d'), exp: '−12',
    title: titlePieces('g', 'b'), ylab: ylabPieces('g', 'b'), legendLeft: false, narrow: true,
    z: zG, rz: zRgb,
    series: [
      { label: muLabel('30 GeV'), color: '#d62728', dash: 'solid', mid: gb30Mid, lo: gb30Lo, hi: gb30Hi, rLo: rgb30Lo, rHi: rgb30Hi },
      { label: muLabel('60 GeV'), color: '#2ca02c', dash: 'dashed', mid: gb60Mid, lo: gb60Lo, hi: gb60Hi, rLo: rgb60Lo, rHi: rgb60Hi },
      { label: muLabel('90 GeV'), color: '#1f77b4', dash: 'dashdot', mid: gb90Mid, lo: gb90Lo, hi: gb90Hi, rLo: rgb90Lo, rHi: rgb90Hi }
    ]
  }
];

panels.forEach(drawPanel);
</script>
</body>
</html>
